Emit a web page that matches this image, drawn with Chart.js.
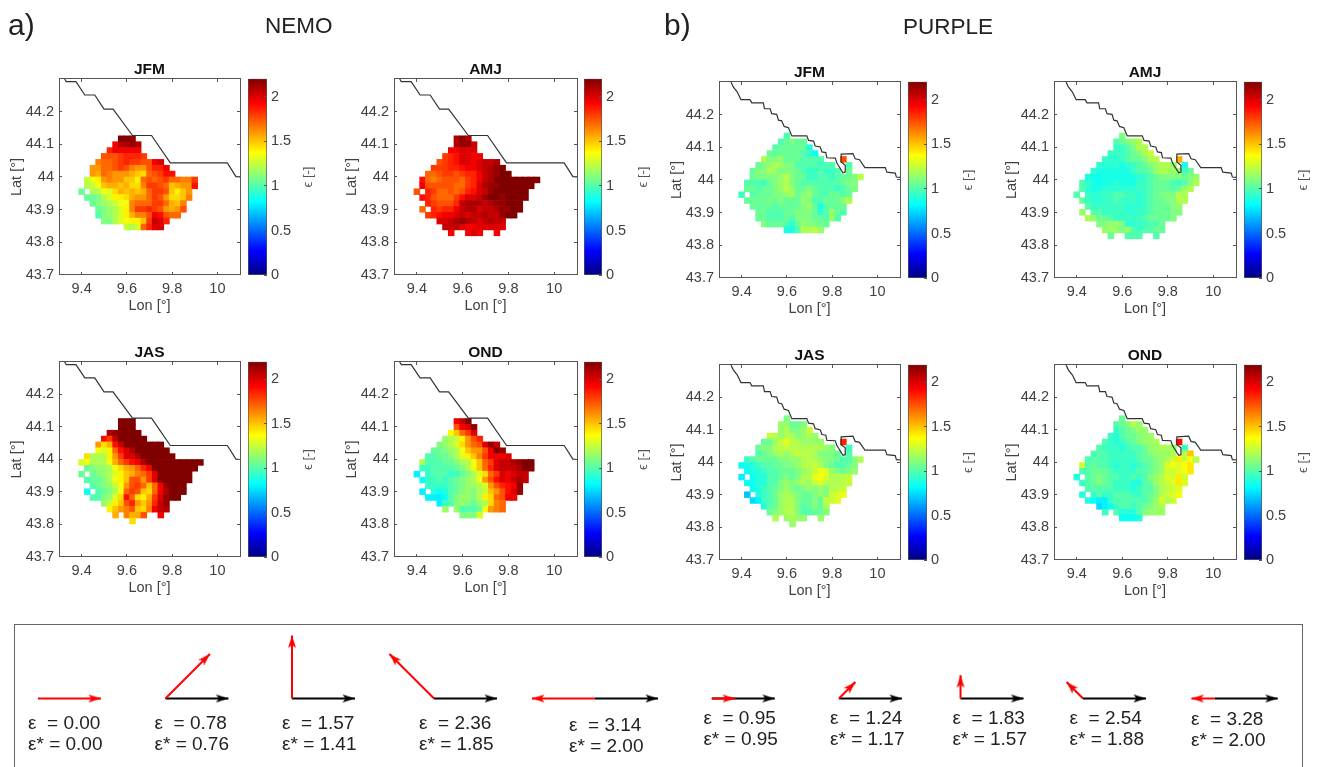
<!DOCTYPE html>
<html>
<head>
<meta charset="utf-8">
<title>NEMO / PURPLE</title>
<script src="https://cdn.jsdelivr.net/npm/chart.js@4/dist/chart.umd.min.js"></script>
<style>
  html, body { margin: 0; padding: 0; background: #fff; width: 1320px; height: 767px; overflow: hidden; }
  canvas { position: absolute; }
  .txt { position: absolute; white-space: pre; font-family: "Liberation Sans", Arial, sans-serif; color: #222; transform: translateY(-50%); line-height: 1; }
  #box { position: absolute; left: 14px; top: 624px; width: 1289px; height: 160px; border: 1.5px solid #666; box-sizing: border-box; }
  #page { position: absolute; left: 0; top: 0; width: 1320px; height: 767px; overflow: hidden; filter: blur(0.35px); }
</style>
</head>
<body>
<div id="page"><div id="box"></div></div>
<script>
// axes
const lonTicks = [9.4, 9.6, 9.8, 10];
const latTicks = [43.7, 43.8, 43.9, 44, 44.1, 44.2];
const cbTicks = [0, 0.5, 1, 1.5, 2];
const cbMax = 2.2;
const lonStart = 9.4, lonStep = 0.025, latStart = 44.135, latStep = 0.018;

// coastlines
const coastNemoLon = [9.325, 9.332, 9.375, 9.414, 9.458, 9.499, 9.539, 9.625, 9.709, 9.792, 10.044, 10.082, 10.1];
const coastNemoLat = [44.3, 44.292, 44.292, 44.251, 44.251, 44.208, 44.208, 44.127, 44.127, 44.043, 44.043, 44.001, 44.0];
const coastPurpleLon = [9.353, 9.363, 9.381, 9.397, 9.437, 9.445, 9.496, 9.501, 9.526, 9.533, 9.555, 9.563, 9.577, 9.588, 9.607, 9.622, 9.688, 9.696, 9.718, 9.725, 9.747, 9.755, 9.772, 9.777, 9.814, 9.821, 9.848, 9.858, 9.858, 9.84, 9.84, 9.892, 9.902, 9.921, 9.945, 10.035, 10.042, 10.079, 10.084, 10.1];
const coastPurpleLat = [44.3, 44.285, 44.269, 44.246, 44.246, 44.236, 44.236, 44.218, 44.218, 44.203, 44.201, 44.183, 44.181, 44.164, 44.16, 44.135, 44.135, 44.121, 44.119, 44.104, 44.101, 44.086, 44.084, 44.068, 44.067, 44.052, 44.022, 44.024, 44.045, 44.055, 44.079, 44.081, 44.065, 44.062, 44.038, 44.038, 44.024, 44.021, 44.009, 44.008];

// helper: row of cells starting at column c, _ = no data
const _ = null;
const at = (c, ...v) => Array(c).fill(_).concat(v);

const nemoJfm = [
  [],
  at(7, 2.2,2.2,2.15),
  at(6, 1.95,2.1,2.1,2.15,2.1),
  at(5, 1.85,1.95,1.95,1.95,1.95,1.95),
  at(4, 1.75,1.75,1.75,1.8,1.85,1.85,1.85,1.8),
  at(3, 1.65,1.7,1.7,1.75,1.8,1.85,1.8,1.8,1.75,1.75,1.95,2.0),
  at(2, 1.6,1.6,1.7,1.7,1.75,1.8,1.75,1.65,1.6,1.6,1.75,1.85,1.85,1.95),
  at(2, 1.6,1.55,1.7,1.65,1.6,1.6,1.6,1.55,1.5,1.45,1.7,1.75,1.8,1.9,1.9),
  at(1, 1.25,1.35,1.4,1.6,1.65,1.6,1.6,1.5,1.5,1.4,1.7,1.75,1.7,1.75,1.8,1.7,1.7,1.65,1.65,1.8),
  at(1, 1.2,1.25,1.35,1.5,1.55,1.55,1.5,1.55,1.45,1.45,1.65,1.8,1.8,1.75,1.7,1.5,1.55,1.6,1.6,1.9),
  at(0, 1.05,_,1.2,1.2,1.35,1.3,1.45,1.55,1.5,1.55,1.5,1.55,1.7,1.8,1.8,1.75,1.5,1.4,1.5,1.6),
  at(1, 1.05,1.05,1.1,1.2,1.3,1.4,1.4,1.45,1.55,1.6,1.6,1.7,1.8,1.75,1.6,1.45,1.45,1.5,1.65),
  at(2, 1.05,1.1,1.15,1.2,1.25,1.35,1.35,1.65,1.7,1.7,1.7,1.8,1.8,1.7,1.55,1.5,1.65),
  at(3, 1.05,1.1,1.15,1.2,1.3,1.4,1.65,1.8,1.8,1.85,1.8,1.75,1.6,1.55,1.6,1.75),
  at(3, 1.0,1.1,1.15,1.2,1.3,1.4,1.55,1.65,1.65,1.75,1.95,1.9,1.75,1.7,1.7),
  at(4, 1.1,1.1,1.2,1.3,1.35,1.4,1.4,1.5,1.8,2.05,2.0,1.85),
  at(8, 1.25,1.2,1.3,1.7,1.85,2.0,2.0)
];
const nemoAmj = [
  [],
  at(7, 2.1,2.2,2.1),
  at(7, 2.1,2.15,2.15,2.05),
  at(6, 1.95,1.95,2.0,2.0,2.0),
  at(5, 1.8,1.85,1.9,2.0,2.0,1.95,1.95),
  at(4, 1.75,1.8,1.85,1.9,2.0,2.0,1.95,2.0,2.05,2.05,2.1),
  at(3, 1.8,1.8,1.8,1.85,1.85,1.9,1.95,1.95,2.0,2.05,2.1,2.15,2.2),
  at(2, 1.7,1.7,1.75,1.8,1.8,1.75,1.8,1.85,1.85,1.95,2.05,2.1,2.15,2.2,2.2),
  at(1, 1.9,1.7,1.65,1.7,1.75,1.75,1.75,1.7,1.8,1.85,1.95,2.05,2.1,2.2,2.2,2.2,2.2,2.2,2.2,2.2,2.25),
  at(1, 1.95,1.75,1.75,1.75,1.75,1.75,1.7,1.7,1.8,1.85,2.0,2.1,2.15,2.15,2.2,2.2,2.2,2.2,2.2,2.2),
  at(0, 1.75,_,1.85,1.8,1.7,1.7,1.75,1.7,1.75,1.85,1.9,2.0,2.05,2.15,2.2,2.2,2.2,2.2,2.2,2.2),
  at(1, 1.9,1.85,1.75,1.7,1.7,1.7,1.8,1.9,2.0,2.0,2.05,2.15,2.2,2.2,2.15,2.2,2.2,2.2,2.2),
  at(2, 1.85,1.8,1.75,1.75,1.75,1.85,2.05,2.1,2.1,2.1,2.05,2.1,2.15,2.15,2.2,2.2,2.2),
  at(1, 1.7,_,1.85,1.8,1.85,1.85,1.95,2.05,2.1,2.1,2.0,2.05,2.05,2.1,2.15,2.15,2.2,2.2),
  at(2, 1.8,1.85,1.9,1.95,1.95,2.0,2.05,2.0,2.05,2.05,2.1,2.05,2.05,2.15,2.2,2.2),
  at(4, 2.0,2.0,2.05,2.1,2.15,2.1,2.05,2.0,2.05,2.1,2.05,2.05),
  at(5, 2.05,2.05,2.05,2.0,1.95,1.95,2.0,2.0,2.0,2.0,2.0),
  at(6, 1.95,_,_,1.95,2.0,1.95,_,_,1.95)
];
const nemoJas = [
  [],
  at(7, 2.2,2.2,2.2),
  at(7, 2.2,2.2,2.2),
  at(5, 2.1,2.15,2.2,2.2,2.2,2.2),
  at(4, 1.9,1.8,2.05,2.2,2.2,2.2,2.2,2.2),
  at(3, 1.6,1.45,1.55,1.9,2.05,2.2,2.2,2.2,2.2,2.2,2.2,2.2),
  at(3, 1.35,1.3,1.4,1.7,1.9,2.0,2.1,2.2,2.2,2.2,2.2,2.2,2.2),
  at(1, 1.45,1.2,1.2,1.2,1.4,1.6,1.8,2.0,2.0,2.1,2.2,2.2,2.2,2.2,2.2,2.2),
  at(0, 1.3,1.35,1.2,1.2,1.2,1.35,1.55,1.7,1.8,1.9,1.95,2.1,2.2,2.2,2.2,2.2,2.2,2.2,2.2,2.2,2.2,2.2),
  at(1, 1.05,1.1,1.15,1.15,1.2,1.35,1.45,1.55,1.6,1.7,1.85,1.95,2.2,2.2,2.2,2.2,2.2,2.2,2.2,2.2),
  at(0, 1.05,_,1.05,1.1,1.15,1.2,1.3,1.4,1.5,1.55,1.65,1.7,1.8,2.0,2.2,2.2,2.2,2.2,2.2,2.2),
  at(1, 1.0,1.05,1.05,1.1,1.2,1.35,1.4,1.5,1.75,1.75,1.6,1.8,2.0,2.2,2.2,2.2,2.2,2.2,2.2),
  at(2, 1.0,1.05,1.1,1.15,1.25,1.35,1.6,1.75,1.8,1.7,1.5,1.7,1.95,2.15,2.2,2.2,2.2),
  at(1, 0.85,_,1.0,1.05,1.1,1.2,1.35,1.7,1.8,1.75,1.5,1.45,1.7,1.95,2.1,2.2,2.2,2.2),
  at(2, 1.0,1.0,1.1,1.15,1.3,1.45,1.9,1.7,1.45,1.4,1.55,1.8,2.0,2.15,2.2,2.2),
  at(4, 1.15,1.25,1.4,1.5,1.75,1.85,1.6,1.5,1.6,1.85,2.05,2.15),
  at(5, 1.4,1.5,1.6,1.65,1.75,1.5,1.45,1.65,1.95,2.05,2.1),
  at(6, 1.55,_,1.65,1.55,1.55,1.75,_,_,1.95),
  at(9, 1.45)
];
const nemoOnd = [
  [],
  at(7, 1.95,2.05,2.2),
  at(7, 1.75,1.95,2.0,2.15),
  at(6, 1.35,1.5,1.7,1.8,2.0),
  at(5, 1.15,1.2,1.25,1.4,1.6,1.75,1.85),
  at(4, 1.1,1.15,1.2,1.3,1.45,1.6,1.7,1.75,2.0,2.15,2.05),
  at(3, 1.05,1.05,1.1,1.15,1.2,1.35,1.5,1.6,1.6,1.75,1.95,2.2,2.15),
  at(2, 1.0,1.0,1.05,1.05,1.1,1.2,1.3,1.4,1.5,1.65,1.8,1.95,1.95,1.95,2.0),
  at(1, 1.2,1.0,1.0,1.0,1.05,1.05,1.1,1.2,1.2,1.35,1.5,1.7,1.8,2.0,2.05,2.05,2.1,2.15,2.2,2.2),
  at(1, 0.95,0.95,1.0,1.0,1.0,1.0,1.05,1.1,1.2,1.35,1.5,1.7,1.85,2.0,2.05,2.05,2.05,2.1,2.2,2.25),
  at(0, 0.8,_,0.95,1.0,1.0,1.0,0.95,0.95,1.05,1.1,1.2,1.3,1.45,1.7,1.8,2.0,1.95,2.0,2.05,2.05),
  at(1, 0.85,0.95,0.95,1.0,0.95,1.0,1.05,1.1,1.15,1.2,1.35,1.6,1.75,1.9,2.0,1.95,2.05,2.1,2.05),
  at(2, 0.95,0.95,0.95,0.95,1.0,1.05,1.1,1.15,1.15,1.2,1.3,1.6,1.75,1.85,1.9,1.95,2.15),
  at(1, 0.8,_,0.9,0.85,0.9,1.0,1.05,1.1,1.15,1.1,1.2,1.25,1.5,1.6,1.75,1.9,2.0,2.15),
  at(2, 0.8,0.8,0.8,0.85,1.0,1.1,1.15,1.15,1.1,1.2,1.4,1.45,1.7,1.75,1.95,1.95),
  at(4, 0.8,0.95,1.0,1.1,1.15,1.1,1.05,1.15,1.2,1.45,1.65,1.7),
  at(5, 1.15,_,1.15,1.0,1.0,1.0,1.05,1.35,1.6,1.65,1.7),
  at(8, 1.1,1.1,1.1,1.3)
];
const purpleJfm = [
  at(8, 1.0),
  at(7, 1.0,1.05,1.1,1.05,1.05),
  at(6, 1.0,1.05,1.05,1.05,1.05,1.05,0.9),
  at(5, 1.05,1.05,1.05,1.05,1.05,1.05,1.0,0.95,0.85),
  at(4, 1.2,1.1,1.1,1.15,1.05,1.05,1.05,1.0,1.0,1.0,1.0,_,_,_,1.75),
  at(3, 1.05,1.1,1.15,1.2,1.15,1.1,1.1,1.0,1.0,1.0,1.0,0.95,1.0,1.0,_,_,1.0),
  at(2, 1.05,1.1,1.1,1.2,1.15,1.1,1.1,1.1,1.05,1.0,0.95,0.95,1.0,0.95,0.95,1.0,_,1.05),
  at(2, 1.05,1.1,1.1,1.1,1.1,1.15,1.22,1.1,1.05,1.05,0.95,0.95,1.0,1.0,0.95,1.0,1.05,1.05,1.1,1.22),
  at(1, 1.0,1.0,1.0,0.95,1.05,1.1,1.15,1.2,1.1,1.05,1.0,1.0,1.0,1.0,1.0,1.0,1.0,1.05,1.1,1.1),
  at(1, 1.05,1.05,1.0,1.05,1.05,1.1,1.15,1.22,1.15,1.05,1.05,1.1,1.05,1.0,1.0,1.0,0.95,1.0,1.05,1.1),
  at(0, 0.95,_,1.0,1.05,1.05,1.05,1.1,1.1,1.15,1.18,1.05,1.1,1.15,1.05,1.0,1.0,1.05,1.05,1.0,1.05),
  at(1, 1.05,1.05,1.05,1.05,1.1,1.05,1.1,1.05,1.05,1.05,1.15,1.1,1.0,1.0,1.05,1.05,1.05,1.15,1.2),
  at(2, 1.05,1.05,1.05,1.05,1.0,1.05,1.05,1.05,1.05,1.1,1.15,1.05,0.88,1.0,1.05,1.05,1.05),
  at(3, 1.05,1.05,1.0,1.0,1.0,1.05,1.05,1.1,1.1,1.1,1.05,0.92,1.0,1.15,1.05,1.0),
  at(3, 1.05,1.05,1.0,1.0,1.0,1.05,1.0,1.1,1.1,1.1,1.05,1.05,1.0,1.15,1.0),
  at(4, 1.1,1.05,1.05,1.05,1.0,0.92,1.05,1.15,1.1,1.1,1.05,1.05),
  at(8, 0.88,0.88,1.0,1.2,1.2,1.22,1.15)
];
const purpleAmj = [
  at(8, 1.1),
  at(7, 1.0,1.05,1.1,1.15,1.2),
  at(7, 0.95,0.95,1.0,1.1,1.2,1.2),
  at(6, 0.95,0.95,0.95,1.0,1.05,1.1,1.2,1.25),
  at(5, 0.95,0.92,0.92,0.95,1.0,1.05,1.05,1.1,1.2,1.22,_,_,_,1.55),
  at(4, 0.92,0.92,0.92,0.92,0.88,0.92,0.95,1.0,1.05,1.1,1.15,1.2,1.2,1.15,_,0.88),
  at(3, 0.92,0.88,0.88,0.88,0.88,0.88,0.88,0.95,1.0,1.0,1.05,1.15,1.2,1.2,1.15,1.15,0.95,1.05),
  at(2, 0.88,0.88,0.85,0.88,0.88,0.88,0.88,0.88,0.88,0.92,0.95,1.0,1.05,1.1,1.1,1.1,1.1,1.05,1.1,1.15),
  at(1, 1.0,0.92,0.88,0.85,0.88,0.88,0.92,0.88,0.88,0.88,0.95,0.95,1.0,1.05,1.05,1.05,1.0,0.95,1.0,1.1,1.2),
  at(1, 1.0,0.92,0.88,0.88,0.92,0.92,0.92,0.92,0.92,0.92,0.95,0.95,1.0,1.05,1.05,1.05,1.0,1.05,1.15,1.2),
  at(0, 1.0,_,0.95,0.92,0.92,0.95,0.95,1.0,1.0,0.95,0.95,0.92,0.95,1.0,1.05,1.1,1.1,1.1,1.2,1.2),
  at(1, 1.05,0.95,0.92,0.92,0.95,0.95,1.0,0.95,0.95,0.95,0.92,0.95,1.0,1.05,1.05,1.1,1.1,1.22,1.2),
  at(2, 1.0,0.95,0.95,0.95,0.95,0.95,0.95,0.92,0.92,0.92,0.95,1.0,1.05,1.05,1.05,1.1,1.15),
  at(1, 1.15,_,1.0,1.0,0.95,0.95,0.95,0.95,0.92,0.92,0.95,0.95,1.0,1.05,1.05,1.05,1.1,1.1),
  at(2, 1.2,1.15,1.05,1.05,1.0,0.95,0.95,0.95,0.95,0.95,1.0,1.05,1.05,1.05,1.05,1.1),
  at(4, 1.1,1.1,1.15,1.15,1.1,0.92,0.92,0.95,0.95,1.0,1.0,1.05),
  at(5, 1.15,1.15,1.15,1.1,1.15,1.0,0.95,1.0,1.0,1.05,1.05),
  at(6, 1.05,_,_,1.0,1.0,1.0,_,_,1.0)
];
const purpleJas = [
  at(8, 1.1),
  at(7, 1.15,1.15,1.05,1.05,1.1),
  at(7, 1.15,1.2,1.1,1.1,1.15,1.25),
  at(5, 1.25,1.22,1.15,1.2,1.2,1.1,1.15,1.2,1.15),
  at(4, 1.05,1.05,1.15,1.25,1.33,1.22,1.2,1.15,1.15,1.15,1.15,_,_,_,1.85),
  at(3, 1.05,1.1,1.1,1.2,1.22,1.25,1.22,1.22,1.2,1.2,1.2,1.2,1.15,1.1,_,_,0.95),
  at(3, 1.0,1.05,1.1,1.15,1.2,1.15,1.2,1.25,1.22,1.22,1.2,1.1,1.1,1.1,1.05,_,1.0),
  at(1, 0.95,1.0,1.05,1.05,1.05,1.05,1.1,1.1,1.15,1.15,1.2,1.22,1.2,1.15,1.1,1.1,1.05,1.0,1.0,1.1,1.2),
  at(0, 0.85,0.85,0.9,0.95,1.0,1.0,1.05,1.05,1.1,1.1,1.15,1.2,1.22,1.25,1.2,1.1,1.05,1.0,1.0,1.05,1.1),
  at(1, 0.85,0.9,0.9,0.95,1.0,1.0,1.05,1.05,1.05,1.1,1.15,1.2,1.25,1.33,1.3,1.15,1.1,1.05,1.1,1.15),
  at(0, 0.8,_,0.85,0.9,0.9,1.0,1.0,1.05,1.1,1.05,1.1,1.2,1.2,1.33,1.37,1.3,1.2,1.2,1.22,1.25),
  at(1, 0.85,0.85,0.9,0.9,1.0,1.0,1.1,1.15,1.1,1.15,1.2,1.15,1.25,1.3,1.22,1.2,1.2,1.22,1.25),
  at(2, 0.85,0.9,0.95,1.0,1.05,1.1,1.15,1.1,1.05,1.1,1.15,1.1,1.15,1.1,1.2,1.22,1.25),
  at(1, 0.7,_,0.9,0.95,1.0,1.05,1.15,1.2,1.15,1.1,1.05,1.05,1.1,1.15,1.1,1.25,1.3,1.33),
  at(2, 0.75,0.8,0.95,1.0,1.05,1.15,1.2,1.2,1.1,1.05,1.05,1.1,1.05,1.25,1.25,1.3),
  at(4, 0.9,1.0,1.05,1.15,1.2,1.2,1.1,1.0,1.05,1.1,1.05,1.2),
  at(5, 1.05,1.1,1.15,1.22,1.2,1.1,1.0,1.0,1.05,1.05,1.1),
  at(6, 1.2,_,1.15,1.2,1.15,1.15,_,_,1.15),
  at(9, 1.15)
];
const purpleOnd = [
  at(8, 1.05),
  at(7, 1.0,1.05,1.1,1.22,1.15),
  at(7, 0.95,1.0,1.05,1.1,1.15,1.15),
  at(6, 0.95,0.9,1.0,1.05,1.05,1.1,1.15,1.15),
  at(5, 1.0,0.95,0.9,0.95,1.0,1.05,1.1,1.15,1.15,1.2,_,_,_,1.9),
  at(4, 1.0,0.95,0.95,0.95,0.9,0.95,1.0,1.0,1.05,1.15,1.15,1.2,1.2,1.15,_,0.95),
  at(3, 1.0,1.0,1.0,0.95,0.95,0.95,0.95,0.95,1.0,1.05,1.1,1.15,1.15,1.15,1.2,_,1.2,1.5),
  at(2, 1.0,1.0,1.0,1.0,0.95,0.95,0.95,0.95,0.95,1.0,1.05,1.05,1.1,1.15,1.2,1.27,1.42,1.27,1.35,1.22),
  at(1, 1.27,1.0,1.05,1.0,1.0,0.95,0.9,0.95,0.95,0.9,0.95,1.0,1.05,1.1,1.15,1.3,1.35,1.3,1.38,1.42),
  at(1, 1.0,1.0,1.05,1.05,1.05,1.0,0.95,0.95,0.95,0.95,1.0,1.0,1.05,1.1,1.15,1.27,1.27,1.3,1.35,1.42),
  at(0, 0.9,_,1.0,1.05,1.1,1.05,1.0,1.0,0.95,0.95,1.0,0.95,1.0,1.1,1.15,1.2,1.3,1.27,1.42,1.27),
  at(1, 0.95,1.0,1.05,1.1,1.05,1.0,0.95,0.95,0.95,0.9,0.9,1.0,1.05,1.15,1.2,1.27,1.3,1.42,1.3),
  at(2, 1.0,1.0,1.0,1.0,1.0,0.95,0.95,0.95,0.9,0.95,1.0,1.0,1.1,1.2,1.22,1.27,1.3),
  at(1, 0.9,_,0.95,1.0,0.95,0.95,1.0,1.0,1.0,0.95,0.95,1.0,1.05,1.1,1.2,1.27,1.3,1.35),
  at(2, 0.9,0.85,0.8,0.8,0.95,1.0,1.0,1.0,1.0,1.0,1.0,1.05,1.15,1.3,1.2,1.27),
  at(4, 0.75,0.8,0.85,0.95,1.0,1.0,0.95,1.0,1.05,1.1,1.15,1.2),
  at(5, 0.95,_,1.0,0.9,0.9,0.9,1.0,1.1,1.15,1.15,1.15),
  at(8, 0.85,0.85,0.85,0.9)
];

// vector sketches along the bottom
const epsilon = ['0.00','0.78','1.57','2.36','3.14','0.95','1.24','1.83','2.54','3.28'];
const epsilonStar = ['0.00','0.76','1.41','1.85','2.00','0.95','1.17','1.57','1.88','2.00'];
const arrowAngle = [0, 45, 90, 135, 180, 0, 45, 90, 135, 180];
const arrowLength = [1, 1, 1, 1, 1, 0.37, 0.37, 0.37, 0.37, 0.37];
const arrowStart = [0.38, 2.403, 4.413, 6.667, 9.222, 11.076, 13.094, 15.024, 16.968, 19.059];

// layout of the panels
const panels = [
  { title: 'JFM', cells: nemoJfm, lon: coastNemoLon, lat: coastNemoLat, L: 59, R: 240, T: 79, B: 275, cb: 248, cbW: 19 },
  { title: 'AMJ', cells: nemoAmj, lon: coastNemoLon, lat: coastNemoLat, L: 394, R: 577, T: 79, B: 275, cb: 584, cbW: 18 },
  { title: 'JAS', cells: nemoJas, lon: coastNemoLon, lat: coastNemoLat, L: 59, R: 240, T: 362, B: 557, cb: 248, cbW: 19 },
  { title: 'OND', cells: nemoOnd, lon: coastNemoLon, lat: coastNemoLat, L: 394, R: 577, T: 362, B: 557, cb: 584, cbW: 18 },
  { title: 'JFM', cells: purpleJfm, lon: coastPurpleLon, lat: coastPurpleLat, L: 719, R: 900, T: 82, B: 278, cb: 908, cbW: 19 },
  { title: 'AMJ', cells: purpleAmj, lon: coastPurpleLon, lat: coastPurpleLat, L: 1054, R: 1236, T: 82, B: 278, cb: 1244, cbW: 18 },
  { title: 'JAS', cells: purpleJas, lon: coastPurpleLon, lat: coastPurpleLat, L: 719, R: 900, T: 365, B: 560, cb: 908, cbW: 19 },
  { title: 'OND', cells: purpleOnd, lon: coastPurpleLon, lat: coastPurpleLat, L: 1054, R: 1236, T: 365, B: 560, cb: 1244, cbW: 18 }
];

const FONT = '"Liberation Sans", Arial, sans-serif';
const FRAME = '#555';
const INK = '#404040';
const page = document.getElementById('page');
Chart.defaults.font.family = FONT;
Chart.defaults.animation = false;
Chart.defaults.responsive = false;
Chart.defaults.devicePixelRatio = 1;
Chart.defaults.events = [];
Chart.defaults.plugins.legend.display = false;
Chart.defaults.plugins.tooltip.enabled = false;

// matlab jet
const jetStops = [[0, 0, 0, 128], [0.125, 0, 0, 255], [0.375, 0, 255, 255], [0.625, 255, 255, 0], [0.875, 255, 0, 0], [1, 128, 0, 0]];
function jet(v) {
  const t = Math.min(1, Math.max(0, v / cbMax));
  for (let i = 1; i < jetStops.length; i++) {
    const a = jetStops[i - 1], b = jetStops[i];
    if (t <= b[0]) {
      const f = (t - a[0]) / (b[0] - a[0]);
      return 'rgb(' + [1, 2, 3].map(k => Math.round(a[k] + (b[k] - a[k]) * f)).join(',') + ')';
    }
  }
  return 'rgb(128,0,0)';
}

function addCanvas(left, top, w, h) {
  const c = document.createElement('canvas');
  c.width = w; c.height = h;
  c.style.left = left + 'px'; c.style.top = top + 'px';
  page.appendChild(c);
  return c;
}

function addText(str, x, y, size) {
  const d = document.createElement('div');
  d.className = 'txt';
  d.textContent = str;
  d.style.left = x + 'px'; d.style.top = y + 'px'; d.style.fontSize = size + 'px';
  page.appendChild(d);
}

const setTicks = values => scale => { scale.ticks = values.map(v => ({ value: v })); };

// one map panel: cells + coastline
function drawMap(p) {
  const points = [];
  p.cells.forEach((row, r) => row.forEach((v, c) => {
    if (v !== null) points.push({ x: lonStart + lonStep * c, y: latStart - latStep * r, v: v });
  }));
  const coast = p.lon.map((x, i) => ({ x: x, y: p.lat[i] }));
  const axW = p.R - p.L, axH = p.B - p.T;
  const edge = { color: FRAME, width: 1, z: 1 };
  const inner = { drawOnChartArea: false, tickLength: -3, tickWidth: 1, color: FRAME, z: 1 };
  new Chart(addCanvas(p.L - 52, p.T - 18, axW + 54, axH + 18 + 44), {
    type: 'scatter',
    data: {
      datasets: [
        { data: coast, showLine: true, borderColor: '#333', borderWidth: 1.2, pointRadius: 0, order: 0 },
        { data: points, pointStyle: 'rect', pointRadius: 4.6, pointBorderWidth: 0,
          pointBackgroundColor: ctx => jet(ctx.raw.v), order: 1 }
      ]
    },
    options: {
      layout: { autoPadding: false, padding: { right: 2 } },
      plugins: {
        title: { display: true, fullSize: false, text: p.title, color: '#111', font: { size: 15.5, weight: 'bold', lineHeight: 1.16 }, padding: 0 }
      },
      scales: {
        x: { type: 'linear', position: 'bottom', min: 9.3, max: 10.1, afterBuildTicks: setTicks(lonTicks),
          afterFit: s => { s.height = 44; }, border: edge, grid: inner,
          ticks: { color: INK, font: { size: 14.5 }, padding: 8, maxRotation: 0, callback: v => String(v) },
          title: { display: true, text: 'Lon [°]', color: INK, font: { size: 14.5 }, padding: { top: 0, bottom: 4 } } },
        y: { type: 'linear', position: 'left', min: 43.7, max: 44.3, afterBuildTicks: setTicks(latTicks),
          afterFit: s => { s.width = 52; }, border: edge, grid: inner,
          ticks: { color: INK, font: { size: 14.5 }, padding: 8, callback: v => String(v) },
          title: { display: true, text: 'Lat [°]', color: INK, font: { size: 14.5 }, padding: { top: 1, bottom: 0 } } },
        xTop: { type: 'linear', position: 'top', min: 9.3, max: 10.1, afterBuildTicks: setTicks(lonTicks),
          afterFit: s => { s.height = 0; }, border: edge, grid: inner, ticks: { display: false } },
        yRight: { type: 'linear', position: 'right', min: 43.7, max: 44.3, afterBuildTicks: setTicks(latTicks),
          afterFit: s => { s.width = 0; }, border: edge, grid: inner, ticks: { display: false } }
      }
    }
  });
}

// colour bar: one floating bar filled with the jet ramp
const cbTitle = {
  id: 'cbTitle',
  afterDraw(chart) {
    const c = chart.ctx, a = chart.chartArea;
    c.save();
    c.translate(a.right + 41, (a.top + a.bottom) / 2);
    c.rotate(-Math.PI / 2);
    c.font = '13px ' + FONT;
    c.fillStyle = '#555';
    c.textAlign = 'center';
    c.textBaseline = 'middle';
    c.fillText('ϵ [-]', 0, 0);
    c.restore();
  }
};

function drawColorbar(p) {
  const axH = p.B - p.T;
  // the scale keeps 16px above and below for its end labels
  new Chart(addCanvas(p.cb, p.T - 16, p.cbW + 50, axH + 32), {
    type: 'bar',
    data: {
      labels: ['ϵ'],
      datasets: [{
        data: [[0, cbMax]],
        categoryPercentage: 1, barPercentage: 1,
        borderColor: FRAME, borderWidth: 1, borderSkipped: false,
        backgroundColor: ctx => {
          const a = ctx.chart.chartArea;
          if (!a) return '#000';
          const g = ctx.chart.ctx.createLinearGradient(0, a.bottom, 0, a.top);
          jetStops.forEach(s => g.addColorStop(s[0], 'rgb(' + s[1] + ',' + s[2] + ',' + s[3] + ')'));
          return g;
        }
      }]
    },
    options: {
      layout: { autoPadding: false, padding: { top: 4, bottom: 4 } },
      scales: {
        x: { display: false },
        y: { position: 'right', min: 0, max: cbMax, afterBuildTicks: setTicks(cbTicks),
          afterFit: s => { s.width = 50; },
          border: { display: false },
          grid: { drawOnChartArea: false, tickLength: -3, color: FRAME, z: 1 },
          ticks: { color: INK, font: { size: 14.5 }, padding: 7, callback: v => String(v) } }
      }
    },
    plugins: [cbTitle]
  });
}

panels.forEach(p => { drawMap(p); drawColorbar(p); });

// arrow heads as point images, tip at the image centre
function arrowHead(color) {
  const c = document.createElement('canvas');
  c.width = 28; c.height = 28;
  const g = c.getContext('2d');
  g.fillStyle = color;
  g.beginPath();
  g.moveTo(14, 14); g.lineTo(18, 26.5); g.lineTo(14, 23.5); g.lineTo(10, 26.5);
  g.closePath();
  g.fill();
  return c;
}
const headBlack = arrowHead('#000'), headRed = arrowHead('#f00');

function vector(x0, angle, len, color, head) {
  const rad = angle * Math.PI / 180;
  return {
    data: [{ x: x0, y: 0 }, { x: x0 + len * Math.cos(rad), y: len * Math.sin(rad) }],
    showLine: true, borderColor: color, borderWidth: 2, clip: false,
    pointStyle: head, pointRotation: 90 - angle,
    pointRadius: ctx => ctx.dataIndex === 1 ? 10 : 0
  };
}

// first dataset ends up on top, so red goes first
const sketches = [];
arrowStart.forEach((x0, i) => sketches.push(vector(x0, arrowAngle[i], arrowLength[i], '#f00', headRed)));
arrowStart.forEach(x0 => { if (x0 !== arrowStart[0]) sketches.push(vector(x0, 0, 1, '#000', headBlack)); });

new Chart(addCanvas(14, 624, 1289, 143), {
  type: 'scatter',
  data: { datasets: sketches },
  options: {
    layout: { autoPadding: false },
    scales: {
      x: { display: false, type: 'linear', min: 0, max: 1289 / 63 },
      y: { display: false, type: 'linear', min: -68.5 / 63, max: 74.5 / 63 }
    }
  }
});

// text
addText('a)', 8, 25, 30);
addText('NEMO', 265, 26, 22.5);
addText('b)', 664, 25, 30);
addText('PURPLE', 903, 27, 22.5);

const labelX = [28, 154.5, 282, 419, 569, 703.4, 830, 952.5, 1069.5, 1191];
const labelY1 = [722, 722, 722, 722, 724, 717, 717, 717, 717, 718];
const labelY2 = [743, 743, 743, 743, 745, 738, 738, 738, 738, 739];
epsilon.forEach((e, i) => {
  addText('ε  = ' + e, labelX[i], labelY1[i], 19);
  addText('ε* = ' + epsilonStar[i], labelX[i], labelY2[i], 19);
});
</script>
</body>
</html>
